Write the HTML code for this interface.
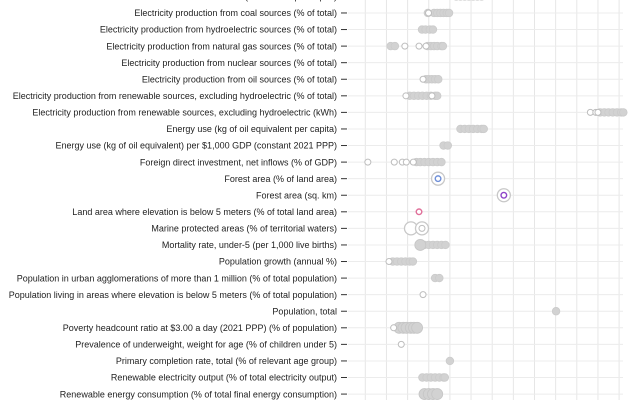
<!DOCTYPE html>
<html><head><meta charset="utf-8"><style>
html,body{margin:0;padding:0;background:#fff;}
svg{display:block;font-family:"Liberation Sans",sans-serif;}
</style></head><body>
<svg id="chart" width="640" height="400" viewBox="0 0 640 400" xmlns="http://www.w3.org/2000/svg">
<g id="grid"></g>
<g id="labels"></g>
<g id="marks"></g>
</svg>
<script>
const categories = [
"CO2 emissions (metric tons per capita)",
"Electricity production from coal sources (% of total)",
"Electricity production from hydroelectric sources (% of total)",
"Electricity production from natural gas sources (% of total)",
"Electricity production from nuclear sources (% of total)",
"Electricity production from oil sources (% of total)",
"Electricity production from renewable sources, excluding hydroelectric (% of total)",
"Electricity production from renewable sources, excluding hydroelectric (kWh)",
"Energy use (kg of oil equivalent per capita)",
"Energy use (kg of oil equivalent) per $1,000 GDP (constant 2021 PPP)",
"Foreign direct investment, net inflows (% of GDP)",
"Forest area (% of land area)",
"Forest area (sq. km)",
"Land area where elevation is below 5 meters (% of total land area)",
"Marine protected areas (% of territorial waters)",
"Mortality rate, under-5 (per 1,000 live births)",
"Population growth (annual %)",
"Population in urban agglomerations of more than 1 million (% of total population)",
"Population living in areas where elevation is below 5 meters (% of total population)",
"Population, total",
"Poverty headcount ratio at $3.00 a day (2021 PPP) (% of population)",
"Prevalence of underweight, weight for age (% of children under 5)",
"Primary completion rate, total (% of relevant age group)",
"Renewable electricity output (% of total electricity output)",
"Renewable energy consumption (% of total final energy consumption)"
];
const filledValues = [
[4.3,4.5,4.7,4.9,5.1,5.3,5.5],
[2.96,3.25,3.4,3.55,3.7,3.85,3.96],
[2.68,2.85,3.05,3.2],
[1.2,1.4,2.95,3.1,3.25,3.4,3.6,3.67],
[],
[2.87,3.0,3.15,3.3,3.45],
[2.1,2.3,2.5,2.7,2.9,3.1,3.3,3.4],
[11.1,11.3,11.5,11.7,11.9,12.1,12.2],
[4.5,4.7,4.9,5.1,5.3,5.5,5.6],
[3.7,3.9],
[2.42,2.6,2.8,3.0,3.2,3.4,3.6],
[],[],[],[],
[2.8,3.0,3.2,3.4,3.6,3.79],
[1.3,1.5,1.7,1.9,2.1,2.25],
[3.3,3.5],
[],
[9.02],
[],
[],
[4.0],
[2.7,2.9,3.1,3.3,3.5,3.7,3.76],
[]
];
const hollowValues = [
[],[2.99],[],[1.87,2.54,2.87],[],[2.73],[1.92,3.15],[10.64,10.9,11.0],[],[],
[0.12,1.37,1.75,1.94,2.27],[],[],[],[2.68],[],[1.12],[],[2.73],[],[1.34],[1.7],[],[],[]
];
const bigFilledValues = [
[],[],[],[],[],[],[],[],[],[],[],[],[],[],[],[2.6],[],[],[],[],[1.6,1.8,1.95,2.15,2.3,2.45],[],[],[],[2.8,3.0,3.2,3.4]
];
const bigHollowValues = [
[],[],[],[],[],[],[],[],[],[],[],[3.44],[6.55],[],[2.16,2.68],[],[],[],[],[],[],[],[],[],[]
];
const highlightValues = [null,null,null,null,null,null,null,null,null,null,null,3.44,6.55,2.54,null,null,null,null,null,null,null,null,null,null,null];
const highlightColors = ["","","","","","","","","","","","#6f8fd8","#8e44c8","#e0709a","","","","","","","","","","",""];
const xTicks = [0,1,2,3,4,5,6,7,8,9,10,11,12];

const NS = "http://www.w3.org/2000/svg";
const x = v => 365.3 + 21.15 * v;
const y = i => -3.6 + 16.57 * i;
function mk(tag, attrs, parent){const e=document.createElementNS(NS,tag);for(const k in attrs)e.setAttribute(k,attrs[k]);parent.appendChild(e);return e;}
const grid=document.getElementById('grid'), labels=document.getElementById('labels'), marks=document.getElementById('marks');

xTicks.forEach(t=>{
  const l=mk('line',{x1:x(t),x2:x(t),y1:0,y2:400,stroke:'#e6e6e6','stroke-width':1},grid);
  
  
});
categories.forEach((c,i)=>{
  const l=mk('line',{x1:348,x2:623,y1:y(i),y2:y(i),stroke:'#ececec','stroke-width':1},grid);
  
  
  const tk=mk('line',{x1:341,x2:347,y1:y(i),y2:y(i),stroke:'#333','stroke-width':1},labels);
  
  
  const g=mk('g',{transform:`translate(337,${y(i)+3.2}) scale(0.98,1)`},labels);
  const t=mk('text',{x:0,y:0,'text-anchor':'end','font-size':'9.2px',fill:'#222'},g);
  t.textContent=c;
  
  
});
categories.forEach((c,i)=>{
  bigHollowValues[i].forEach(v=>{
    const e=mk('circle',{cx:x(v),cy:y(i),r:6.5,fill:'#fff',stroke:'#c8c8c8','stroke-width':1.3},marks);
    
    
  });
  filledValues[i].forEach(v=>{
    const e=mk('circle',{cx:x(v),cy:y(i),r:3.8,fill:'#d2d2d2',stroke:'#cbcbcb','stroke-width':0.8},marks);
    
    
  });
  bigFilledValues[i].forEach(v=>{
    const e=mk('circle',{cx:x(v),cy:y(i),r:5.5,fill:'#d2d2d2',stroke:'#c6c6c6','stroke-width':0.8},marks);
    
    
  });
  hollowValues[i].forEach(v=>{
    const e=mk('circle',{cx:x(v),cy:y(i),r:3,fill:'#fff',stroke:'#bdbdbd','stroke-width':1},marks);
    
    
  });
  if(highlightValues[i]!==null){
    const e=mk('circle',{cx:x(highlightValues[i]),cy:y(i),r:2.8,fill:'#fff',stroke:highlightColors[i],'stroke-width':1.4},marks);
    
    
  }
});
</script>
</body></html>
